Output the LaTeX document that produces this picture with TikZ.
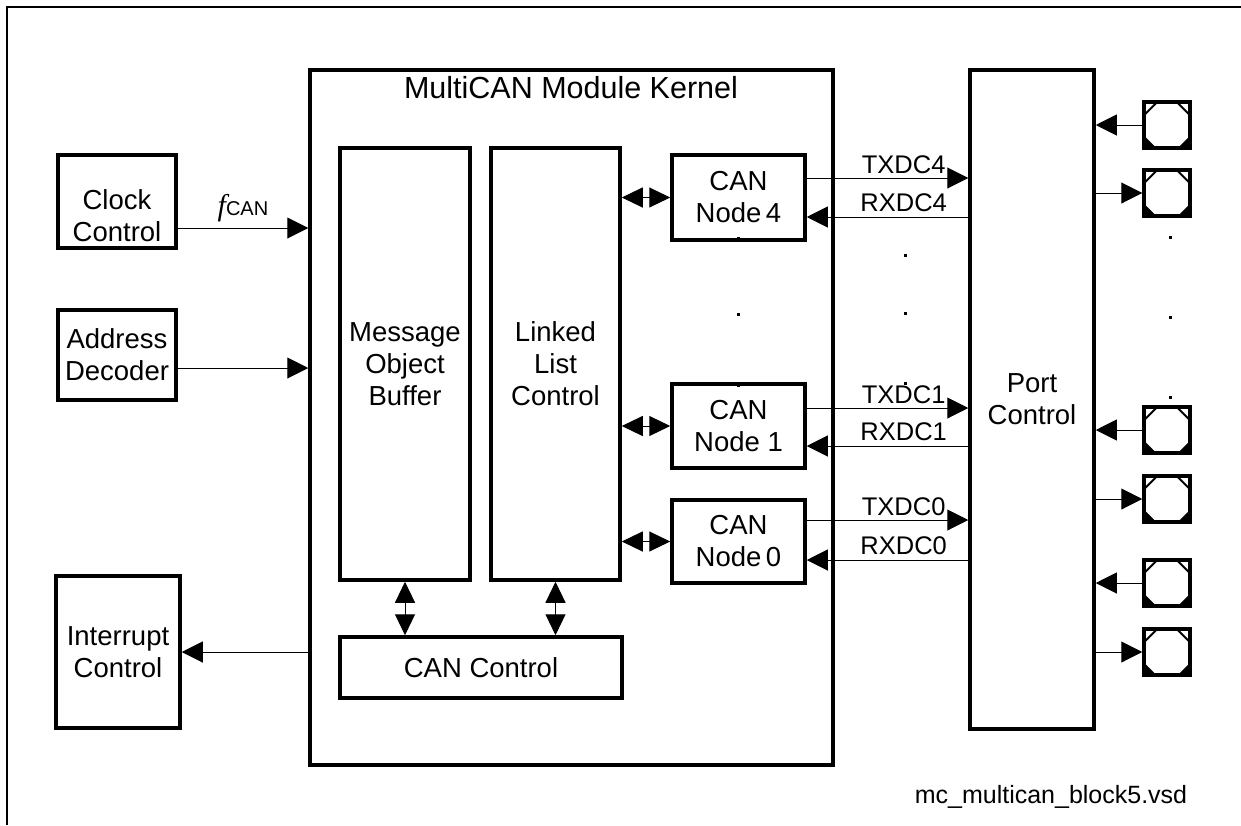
\documentclass[tikz,border=0pt]{standalone}
\usepackage{fontspec}
\setmainfont{Liberation Sans}
\newfontfamily\serifit{Liberation Serif}
\usetikzlibrary{arrows.meta}
\tikzset{
  x=1pt, y=-1pt,
  box/.style={draw, line width=3.5pt, rectangle, inner sep=0pt, align=center,
    font=\fontsize{27.5}{32}\selectfont},
  boxtext/.style={inner sep=0pt, align=center, font=\fontsize{27.5}{32}\selectfont},
  pinbox/.style={draw, line width=3.5pt, rectangle, inner sep=0pt,
    minimum width=46pt, minimum height=46pt},
  arr/.style={line width=1pt, -{Triangle[length=21pt,width=21pt]}},
  darr/.style={line width=1pt, {Triangle[length=21pt,width=20pt]}-{Triangle[length=21pt,width=20pt]}},
  lbl/.style={font=\fontsize{25.5}{28}\selectfont, inner sep=0pt},
  frame/.style={line width=2pt},
}
\begin{document}
\begin{tikzpicture}
\useasboundingbox (0,0) rectangle (1241,825);
\draw[frame] (7,825) -- (7,7) -- (1241,7);

% main blocks
\node[box, minimum width=118pt, minimum height=93pt] (clk) at (117,201.5) {};
\node[boxtext] (clkt) at (117,216) {Clock\\Control};
\node[box, minimum width=118pt, minimum height=90pt] (addr) at (117,355) {Address\\Decoder};
\node[box, minimum width=124pt, minimum height=152pt] (intr) at (118,652) {Interrupt\\Control};
\node[box, minimum width=523pt, minimum height=695pt] (kern) at (571.5,417.5) {};
\node[font=\fontsize{30.5}{34}\selectfont, inner sep=0pt] (ktitle) at (571,88) {MultiCAN Module Kernel};
\node[box, minimum width=130pt, minimum height=432pt] (mob) at (405,364) {Message\\Object\\Buffer};
\node[box, minimum width=129pt, minimum height=432pt] (llc) at (555.5,364) {Linked\\List\\Control};
\node[box, minimum width=282pt, minimum height=61pt] (canc) at (481,667.5) {CAN Control};
\node[box, minimum width=133pt, minimum height=85pt] (n4) at (738.5,197.5) {CAN\\Node\,4};
\node[box, minimum width=133pt, minimum height=84pt] (n1) at (738.5,426) {CAN\\Node 1};
\node[box, minimum width=133pt, minimum height=83pt] (n0) at (738.5,541.5) {CAN\\Node\,0};
\node[box, minimum width=124pt, minimum height=659pt] (port) at (1032,399.5) {Port\\Control};

% pins
\foreach \n/\yy in {1/125, 2/193, 3/430, 4/499, 5/583, 6/652}{
  \node[pinbox] (p\n) at (1167,\yy) {};
  \draw[line width=2pt] ([xshift=-9pt,yshift=-1pt]p\n.north) -- ([xshift=-22pt,yshift=-14pt]p\n.north);
  \draw[line width=2pt] ([xshift=9pt,yshift=-1pt]p\n.north) -- ([xshift=22pt,yshift=-14pt]p\n.north);
  \fill ([xshift=-23pt,yshift=14pt]p\n.south) -- ([xshift=-9pt]p\n.south) -- ([xshift=-23pt]p\n.south) -- cycle;
  \fill ([xshift=23pt,yshift=14pt]p\n.south) -- ([xshift=9pt]p\n.south) -- ([xshift=23pt]p\n.south) -- cycle;
}

% helper heights
\path (0,228) coordinate (yclk) (0,368) coordinate (yaddr)
      (0,178) coordinate (ytx4) (0,217) coordinate (yrx4)
      (0,408) coordinate (ytx1) (0,446) coordinate (yrx1)
      (0,520) coordinate (ytx0) (0,560) coordinate (yrx0);

% left connectors
\draw[arr] (clk.east |- yclk) -- (kern.west |- yclk)
  node[pos=0.5, above=6pt, inner sep=0pt] (fcan) {{\serifit\itshape\fontsize{30}{30}\selectfont f}{\fontsize{20}{22}\selectfont CAN}};
\draw[arr] (addr.east |- yaddr) -- (kern.west |- yaddr);
\draw[arr] (kern.west |- intr.east) -- (intr.east);

% internal connectors
\draw[darr] (llc.east |- n4.west) -- (n4.west);
\draw[darr] (llc.east |- n1.west) -- (n1.west);
\draw[darr] (llc.east |- n0.west) -- (n0.west);
\draw[darr] (mob.south) -- (canc.north -| mob.south);
\draw[darr] (llc.south) -- (canc.north -| llc.south);

% TX / RX
\draw[arr] (n4.east |- ytx4) -- (port.west |- ytx4) node[lbl, pos=0.6, above=4pt] {TXDC4};
\draw[arr] (port.west |- yrx4) -- (n4.east |- yrx4) node[lbl, pos=0.4, above=5pt] {RXDC4};
\draw[arr] (n1.east |- ytx1) -- (port.west |- ytx1) node[lbl, pos=0.6, above=4pt] {TXDC1};
\draw[arr] (port.west |- yrx1) -- (n1.east |- yrx1) node[lbl, pos=0.4, above=5pt] {RXDC1};
\draw[arr] (n0.east |- ytx0) -- (port.west |- ytx0) node[lbl, pos=0.6, above=4pt] {TXDC0};
\draw[arr] (port.west |- yrx0) -- (n0.east |- yrx0) node[lbl, pos=0.4, above=5pt] {RXDC0};

% pin connectors
\draw[arr] (p1.west) -- (port.east |- p1.west);
\draw[arr] (port.east |- p2.west) -- (p2.west);
\draw[arr] (p3.west) -- (port.east |- p3.west);
\draw[arr] (port.east |- p4.west) -- (p4.west);
\draw[arr] (p5.west) -- (port.east |- p5.west);
\draw[arr] (port.east |- p6.west) -- (p6.west);

% ellipsis dots
\foreach \xx/\yy in {738/238, 738/314, 738/385, 905/255, 905/313, 905/383, 1170/237, 1170/317, 1170/397}{
  \fill (\xx-1.5,\yy-1.5) rectangle (\xx+1.5,\yy+1.5);
}

% file name
\node[font=\fontsize{25}{28}\selectfont, inner sep=0pt] (fname) at (1051,797) {mc\_multican\_block5.vsd};
\end{tikzpicture}
\end{document}
